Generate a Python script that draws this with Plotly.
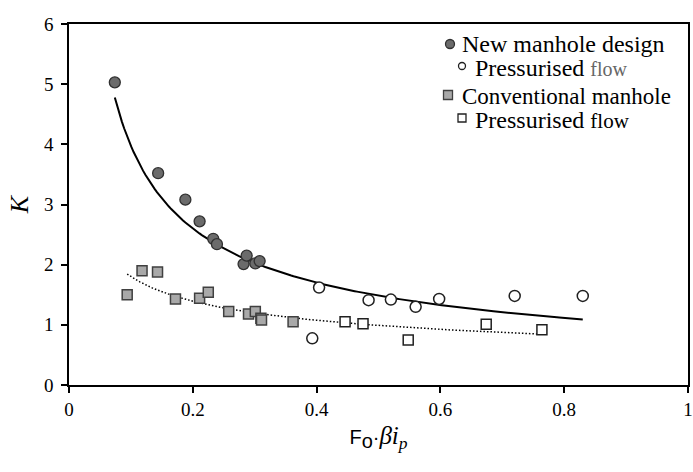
import numpy as np
import plotly.graph_objects as go

# ---- data ----
new_x = [0.074, 0.144, 0.188, 0.211, 0.233, 0.239, 0.282, 0.287, 0.301, 0.308]
new_y = [5.03, 3.52, 3.08, 2.72, 2.43, 2.34, 2.01, 2.15, 2.02, 2.06]
new_p_x = [0.393, 0.404, 0.484, 0.520, 0.560, 0.598, 0.720, 0.830]
new_p_y = [0.775, 1.62, 1.41, 1.42, 1.30, 1.43, 1.48, 1.48]

conv_x = [0.094, 0.118, 0.143, 0.172, 0.211, 0.225, 0.258, 0.290, 0.301, 0.310, 0.311, 0.362]
conv_y = [1.50, 1.90, 1.88, 1.43, 1.44, 1.54, 1.22, 1.18, 1.22, 1.11, 1.08, 1.05]
conv_p_x = [0.446, 0.475, 0.548, 0.674, 0.764]
conv_p_y = [1.05, 1.02, 0.75, 1.01, 0.92]

x_ticks = [0, 0.2, 0.4, 0.6, 0.8, 1]
x_tick_labels = ["0", "0.2", "0.4", "0.6", "0.8", "1"]
y_ticks = [0, 1, 2, 3, 4, 5, 6]

SERIF = "Liberation Serif"
SANS = "Liberation Sans"


def power_trend(xs, ys):
    """Least-squares power trendline y = a*x^b (as in a spreadsheet trendline)."""
    xs = np.asarray(xs, float)
    ys = np.asarray(ys, float)
    b, lna = np.polyfit(np.log(xs), np.log(ys), 1)
    xt = np.linspace(xs.min(), xs.max(), 200)
    return xt, np.exp(lna) * xt ** b


all_new_x = new_x + new_p_x
all_new_y = new_y + new_p_y
all_conv_x = conv_x + conv_p_x
all_conv_y = conv_y + conv_p_y

tn_x, tn_y = power_trend(all_new_x, all_new_y)
tc_x, tc_y = power_trend(all_conv_x, all_conv_y)

fig = go.Figure()

fig.add_trace(go.Scatter(x=tn_x, y=tn_y, mode="lines",
                         line=dict(color="black", width=2), showlegend=False,
                         hoverinfo="skip"))
fig.add_trace(go.Scatter(x=tc_x, y=tc_y, mode="lines",
                         line=dict(color="black", width=1.5, dash="1.5px,2px"),
                         showlegend=False, hoverinfo="skip"))

fig.add_trace(go.Scatter(x=conv_x, y=conv_y, mode="markers", name="Conventional manhole",
                         marker=dict(symbol="square", size=10, color="#a9a9a9",
                                     line=dict(color="#404040", width=1.5)),
                         showlegend=False))
fig.add_trace(go.Scatter(x=conv_p_x, y=conv_p_y, mode="markers", name="Pressurised flow",
                         marker=dict(symbol="square", size=10, color="white",
                                     line=dict(color="#202020", width=1.5)),
                         showlegend=False))
fig.add_trace(go.Scatter(x=new_x, y=new_y, mode="markers", name="New manhole design",
                         marker=dict(symbol="circle", size=11, color="#6b6b6b",
                                     line=dict(color="#303030", width=1.3)),
                         showlegend=False))
fig.add_trace(go.Scatter(x=new_p_x, y=new_p_y, mode="markers", name="Pressurised flow",
                         marker=dict(symbol="circle", size=11, color="white",
                                     line=dict(color="#202020", width=1.5)),
                         showlegend=False))

# ---- custom legend (layout items) ----
L, R, T, B = 69, 688, 24, 385


def px(p):
    return (p - L) / (R - L)


def py(p):
    return (B - p) / (B - T)


shapes = []
annotations = []


def leg_marker(kind, cx, cy, size, fill, line_color):
    h = size / 2
    shapes.append(dict(type="circle" if kind == "circle" else "rect",
                       xref="paper", yref="paper", xsizemode="pixel", ysizemode="pixel",
                       xanchor=px(cx), yanchor=py(cy), x0=-h, x1=h, y0=-h, y1=h,
                       fillcolor=fill, line=dict(color=line_color, width=1.3)))


def leg_text(text, lx, cy, size=24):
    annotations.append(dict(text=text, xref="paper", yref="paper", x=px(lx), y=py(cy),
                            xanchor="left", yanchor="middle", showarrow=False,
                            font=dict(family=SERIF, size=size, color="black")))


leg_marker("circle", 450, 44, 9, "#6b6b6b", "#303030")
leg_text("New manhole design", 460, 44)
leg_marker("circle", 462, 66, 7, "white", "#202020")
leg_text("Pressurised <span style='font-size:20px;color:#666666'>flow</span>", 473, 68)
leg_marker("rect", 448, 95, 9, "#a9a9a9", "#404040")
leg_text("Conventional manhole", 460, 96, 23)
leg_marker("rect", 462, 118, 8, "white", "#202020")
leg_text("Pressurised <span style='font-size:21px'>flow</span>", 473, 120)

fig.update_layout(
    width=693, height=472,
    margin=dict(l=L, r=693 - R, t=T, b=472 - B),
    paper_bgcolor="white", plot_bgcolor="white",
    showlegend=False,
    shapes=shapes, annotations=annotations,
    font=dict(family=SERIF, size=19, color="black"),
)

x_title = ("<span style='font-family:" + SANS + ";font-size:20px'>F<sub>"
           "<span style='font-size:20px'>o</span></sub>·</span>"
           "<i>βi<sub>p</sub></i>")

fig.update_xaxes(
    range=[0, 1], tickvals=x_ticks, ticktext=x_tick_labels,
    showgrid=False, zeroline=False, automargin=False,
    showline=True, linecolor="black", linewidth=1.5, mirror=True,
    ticks="outside", ticklen=6, tickwidth=1.5, tickcolor="black",
    tickfont=dict(family=SERIF, size=19),
    title=dict(text=x_title, font=dict(family=SERIF, size=25), standoff=8),
)
fig.update_yaxes(
    range=[0, 6], tickvals=y_ticks,
    showgrid=False, zeroline=False, automargin=False,
    showline=True, linecolor="black", linewidth=1.5, mirror=True,
    ticks="outside", ticklen=6, tickwidth=1.5, tickcolor="black",
    tickfont=dict(family=SERIF, size=19), ticklabelstandoff=4,
    title=dict(text="<i>K</i>", font=dict(family=SERIF, size=26), standoff=8),
)

fig.write_html("out.html", config={"displayModeBar": False},
               post_script="document.body.style.margin='0px';")
